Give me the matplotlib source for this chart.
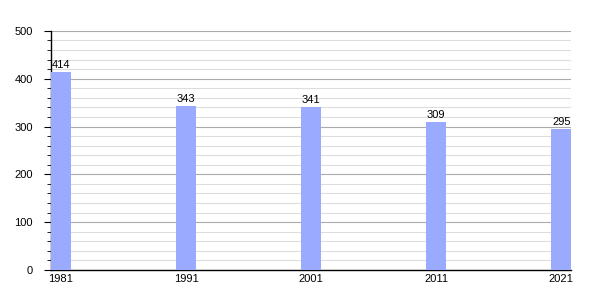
import matplotlib.pyplot as plt
from matplotlib.ticker import MultipleLocator

years = ["1981", "1991", "2001", "2011", "2021"]
population = [414, 343, 341, 309, 295]

plt.rcParams['font.family'] = ['Liberation Sans', 'DejaVu Sans']

fig = plt.figure(figsize=(6, 3), dpi=100)
ax = fig.add_axes([0.085, 0.1, 0.867, 0.797])

bar_w = 0.16
pos = list(range(len(years)))
ax.bar(pos, population, width=bar_w, align="edge", color="#99aaff", zorder=3)

for x, v in zip(pos, population):
    ax.text(x + bar_w / 2, v + 4, str(v), ha="center", va="bottom", fontsize=8, zorder=4)

ax.set_xlim(0, len(years) - 1 + bar_w)
ax.set_ylim(0, 500)
ax.set_xticks([p + bar_w / 2 for p in pos])
ax.set_xticklabels(years)
ax.yaxis.set_major_locator(MultipleLocator(100))
ax.yaxis.set_minor_locator(MultipleLocator(20))

ax.grid(True, which="major", axis="y", color="#aaaaaa", linewidth=0.8, zorder=0)
ax.grid(True, which="minor", axis="y", color="#dddddd", linewidth=0.8, zorder=0)

ax.tick_params(axis="x", length=0, labelsize=8, pad=3)
ax.tick_params(axis="y", which="major", length=5, labelsize=8, pad=8)
ax.tick_params(axis="y", which="minor", length=3)

for s in ["top", "right"]:
    ax.spines[s].set_visible(False)
ax.spines["left"].set_linewidth(1)
ax.spines["bottom"].set_linewidth(1)

fig.savefig("out.png", dpi=100)
